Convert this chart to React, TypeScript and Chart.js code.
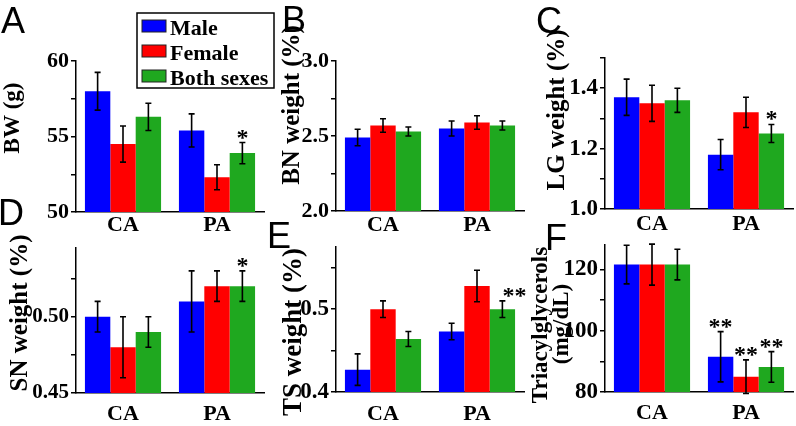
import React, { useEffect, useRef } from 'react';
import { Chart, registerables } from 'chart.js';

Chart.register(...registerables);

// ---------- data ----------
const categories = ['CA', 'PA'];
const seriesNames = ['Male', 'Female', 'Both sexes'];
const seriesColors = ['#0000ff', '#ff0000', '#1fa81f'];

// A: body weight (g)
const bwMale = [58.0, 55.4];
const bwFemale = [54.5, 52.3];
const bwBoth = [56.3, 53.9];
const bwMaleErr = [1.25, 1.1];
const bwFemaleErr = [1.2, 0.83];
const bwBothErr = [0.9, 0.7];
const bwTicks = [50, 55, 60];
const bwMinorTicks = [52.5, 57.5];
const bwStars: [number, number, string][] = [[2, 1, '*']];

// B: BN weight (%)
const bnMale = [2.49, 2.55];
const bnFemale = [2.57, 2.59];
const bnBoth = [2.53, 2.57];
const bnMaleErr = [0.055, 0.05];
const bnFemaleErr = [0.045, 0.045];
const bnBothErr = [0.03, 0.03];
const bnTicks = [2.0, 2.5, 3.0];
const bnMinorTicks = [2.25, 2.75];
const bnStars: [number, number, string][] = [];

// C: LG weight (%)
const lgMale = [1.37, 1.18];
const lgFemale = [1.35, 1.32];
const lgBoth = [1.36, 1.25];
const lgMaleErr = [0.06, 0.05];
const lgFemaleErr = [0.06, 0.05];
const lgBothErr = [0.04, 0.03];
const lgTicks = [1.0, 1.2, 1.4];
const lgMinorTicks = [1.1, 1.3, 1.5];
const lgStars: [number, number, string][] = [[2, 1, '*']];

// D: SN weight (%)
const snMale = [0.5, 0.51];
const snFemale = [0.48, 0.52];
const snBoth = [0.49, 0.52];
const snMaleErr = [0.01, 0.02];
const snFemaleErr = [0.02, 0.01];
const snBothErr = [0.01, 0.01];
const snTicks = [0.45, 0.5];
const snMinorTicks = [0.475, 0.525];
const snStars: [number, number, string][] = [[2, 1, '*']];

// E: TS weight (%)
const tsMale = [0.427, 0.473];
const tsFemale = [0.5, 0.528];
const tsBoth = [0.464, 0.5];
const tsMaleErr = [0.019, 0.01];
const tsFemaleErr = [0.01, 0.019];
const tsBothErr = [0.009, 0.01];
const tsTicks = [0.4, 0.5];
const tsMinorTicks = [0.45, 0.55];
const tsStars: [number, number, string][] = [[2, 1, '**']];

// F: Triacylglycerols (mg/dL)
const tgMale = [121.6, 91.5];
const tgFemale = [121.6, 85.0];
const tgBoth = [121.6, 88.2];
const tgMaleErr = [6.3, 8.2];
const tgFemaleErr = [6.7, 5.5];
const tgBothErr = [5.0, 5.0];
const tgTicks = [80, 100, 120];
const tgMinorTicks = [90, 110];
const tgStars: [number, number, string][] = [[0, 1, '**'], [1, 1, '**'], [2, 1, '**']];

// ---------- layout / style ----------
type PanelCfg = {
  key: string;
  values: number[][];
  errors: number[][];
  ticks: number[];
  minor: number[];
  stars: [number, number, string][];
  min: number;
  max: number;
  dec: number;
  area: { left: number; top: number; right: number; bottom: number };
  tickFont: number;
  xPad: number;
  letter: { text: string; x: number; y: number };
  titles: { text: string; x: number; y: number }[];
  titleFont: number;
  starDx: number;
  legend?: boolean;
};

const W = 796;
const H = 426;
const SERIF = "'Liberation Serif', 'Times New Roman', serif";
const SANS = "'Liberation Sans', Arial, sans-serif";

const panels: PanelCfg[] = [
  {
    key: 'A', values: [bwMale, bwFemale, bwBoth], errors: [bwMaleErr, bwFemaleErr, bwBothErr],
    ticks: bwTicks, minor: bwMinorTicks, stars: bwStars, min: 50, max: 60, dec: 0,
    area: { left: 76, top: 61, right: 264, bottom: 212 }, tickFont: 22, xPad: 0,
    letter: { text: 'A', x: 1, y: 33 }, titles: [{ text: 'BW (g)', x: 13, y: 118 }], titleFont: 23,
    starDx: 0, legend: true,
  },
  {
    key: 'B', values: [bnMale, bnFemale, bnBoth], errors: [bnMaleErr, bnFemaleErr, bnBothErr],
    ticks: bnTicks, minor: bnMinorTicks, stars: bnStars, min: 2.0, max: 3.0, dec: 1,
    area: { left: 336, top: 61, right: 524, bottom: 211 }, tickFont: 22, xPad: 1,
    letter: { text: 'B', x: 282, y: 32 }, titles: [{ text: 'BN weight (%)', x: 293, y: 105 }], titleFont: 25,
    starDx: 0,
  },
  {
    key: 'C', values: [lgMale, lgFemale, lgBoth], errors: [lgMaleErr, lgFemaleErr, lgBothErr],
    ticks: lgTicks, minor: lgMinorTicks, stars: lgStars, min: 1.0, max: 1.5, dec: 1,
    area: { left: 605, top: 58, right: 793, bottom: 209 }, tickFont: 23, xPad: 2,
    letter: { text: 'C', x: 536, y: 33 }, titles: [{ text: 'LG weight (%)', x: 558, y: 110 }], titleFont: 25,
    starDx: 0,
  },
  {
    key: 'D', values: [snMale, snFemale, snBoth], errors: [snMaleErr, snFemaleErr, snBothErr],
    ticks: snTicks, minor: snMinorTicks, stars: snStars, min: 0.45, max: 0.545, dec: 2,
    area: { left: 76, top: 248, right: 264, bottom: 393 }, tickFont: 21, xPad: 8,
    letter: { text: 'D', x: -2, y: 225 }, titles: [{ text: 'SN weight (%)', x: 21, y: 313 }], titleFont: 25,
    starDx: 0,
  },
  {
    key: 'E', values: [tsMale, tsFemale, tsBoth], errors: [tsMaleErr, tsFemaleErr, tsBothErr],
    ticks: tsTicks, minor: tsMinorTicks, stars: tsStars, min: 0.4, max: 0.575, dec: 1,
    area: { left: 336, top: 247, right: 524, bottom: 392 }, tickFont: 23, xPad: 9,
    letter: { text: 'E', x: 267, y: 248 }, titles: [{ text: 'TS weight (%)', x: 294, y: 332 }], titleFont: 27,
    starDx: 12,
  },
  {
    key: 'F', values: [tgMale, tgFemale, tgBoth], errors: [tgMaleErr, tgFemaleErr, tgBothErr],
    ticks: tgTicks, minor: tgMinorTicks, stars: tgStars, min: 80, max: 128, dec: 0,
    area: { left: 605, top: 245, right: 793, bottom: 392 }, tickFont: 23, xPad: 8,
    letter: { text: 'F', x: 545, y: 250 },
    titles: [{ text: 'Triacylglycerols', x: 541, y: 325 }, { text: '(mg/dL)', x: 562, y: 324 }], titleFont: 23,
    starDx: 0,
  },
];

function makeDecor(p: PanelCfg) {
  return {
    id: 'decor' + p.key,
    afterDatasetsDraw(chart: any) {
      const ctx = chart.ctx as CanvasRenderingContext2D;
      const ys = chart.scales.y;
      ctx.save();
      ctx.strokeStyle = '#000';
      ctx.lineWidth = 1.6;
      const tops: number[][] = [];
      p.values.forEach((vals, i) => {
        const meta = chart.getDatasetMeta(i);
        tops[i] = [];
        meta.data.forEach((bar: any, j: number) => {
          const v = vals[j];
          const e = p.errors[i][j];
          const yt = ys.getPixelForValue(v + e);
          const yb = ys.getPixelForValue(v - e);
          tops[i][j] = yt;
          const x = bar.x;
          ctx.beginPath();
          ctx.moveTo(x, yt);
          ctx.lineTo(x, yb);
          ctx.moveTo(x - 3, yt);
          ctx.lineTo(x + 3, yt);
          ctx.moveTo(x - 3, yb);
          ctx.lineTo(x + 3, yb);
          ctx.stroke();
        });
      });
      ctx.fillStyle = '#000';
      ctx.font = `bold 24px ${SERIF}`;
      ctx.textAlign = 'center';
      ctx.textBaseline = 'alphabetic';
      p.stars.forEach(([si, ci, label]) => {
        const bar = chart.getDatasetMeta(si).data[ci];
        ctx.fillText(label, bar.x + p.starDx, tops[si][ci] + 2);
      });
      ctx.restore();
    },
    afterDraw(chart: any) {
      const ctx = chart.ctx as CanvasRenderingContext2D;
      ctx.save();
      ctx.fillStyle = '#000';
      // panel letter
      ctx.font = `36px ${SANS}`;
      ctx.textAlign = 'left';
      ctx.textBaseline = 'alphabetic';
      ctx.fillText(p.letter.text, p.letter.x, p.letter.y);
      // y titles
      ctx.font = `bold ${p.titleFont}px ${SERIF}`;
      ctx.textAlign = 'center';
      ctx.textBaseline = 'middle';
      p.titles.forEach((t) => {
        ctx.save();
        ctx.translate(t.x, t.y);
        ctx.rotate(-Math.PI / 2);
        ctx.fillText(t.text, 0, 0);
        ctx.restore();
      });
      // legend
      if (p.legend) {
        const bx = 137, by = 13, bw = 137, bh = 75;
        ctx.fillStyle = '#fff';
        ctx.fillRect(bx, by, bw, bh);
        ctx.strokeStyle = '#000';
        ctx.lineWidth = 1.5;
        ctx.strokeRect(bx, by, bw, bh);
        ctx.font = `bold 22px ${SERIF}`;
        ctx.textAlign = 'left';
        ctx.textBaseline = 'alphabetic';
        chart.data.datasets.forEach((ds: any, i: number) => {
          const cy = 26 + i * 25;
          ctx.fillStyle = ds.backgroundColor;
          ctx.fillRect(142, cy - 6, 24, 12);
          ctx.strokeStyle = '#222';
          ctx.lineWidth = 1;
          ctx.strokeRect(142, cy - 6, 24, 12);
          ctx.fillStyle = '#000';
          ctx.fillText(ds.label, 170, cy + 9);
        });
      }
      ctx.restore();
    },
  };
}

function buildConfig(p: PanelCfg): any {
  const yW = 60;
  const xH = 30;
  const a = p.area;
  const allTicks = [...p.ticks, ...p.minor].sort((u, v) => u - v);
  const isMajor = (v: number) => p.ticks.some((m) => Math.abs(m - v) < 1e-9);
  return {
    type: 'bar',
    data: {
      labels: categories,
      datasets: p.values.map((vals, i) => ({
        label: seriesNames[i],
        data: vals,
        backgroundColor: seriesColors[i],
        borderWidth: 0,
        categoryPercentage: 0.81,
        barPercentage: 1.0,
      })),
    },
    options: {
      responsive: false,
      animation: false,
      devicePixelRatio: 1,
      layout: {
        padding: { left: a.left - yW, top: a.top, right: W - a.right, bottom: H - a.bottom - xH },
      },
      plugins: { legend: { display: false }, tooltip: { enabled: false }, title: { display: false } },
      scales: {
        x: {
          type: 'category',
          offset: true,
          grid: { display: false, drawTicks: false, tickLength: 0 },
          border: { display: true, color: '#000', width: 1.5 },
          ticks: {
            color: '#000',
            padding: p.xPad,
            font: { family: SERIF, weight: 'bold', size: 22 },
            maxRotation: 0,
            autoSkip: false,
          },
          afterFit: (s: any) => { s.height = xH; },
        },
        y: {
          type: 'linear',
          min: p.min,
          max: p.max,
          grid: { display: true, drawOnChartArea: false, drawTicks: true, tickLength: 5, color: '#000', lineWidth: 1.5 },
          border: { display: true, color: '#000', width: 1.5 },
          afterBuildTicks: (s: any) => { s.ticks = allTicks.map((v) => ({ value: v })); },
          ticks: {
            color: '#000',
            padding: 2,
            autoSkip: false,
            font: { family: SERIF, weight: 'bold', size: p.tickFont },
            callback: (v: any) => (isMajor(Number(v)) ? Number(v).toFixed(p.dec) : ''),
          },
          afterFit: (s: any) => { s.width = yW; },
        },
      },
    },
    plugins: [makeDecor(p)],
  };
}

function PanelChart({ cfg }: { cfg: PanelCfg }) {
  const ref = useRef<HTMLCanvasElement>(null);
  useEffect(() => {
    if (!ref.current) return;
    const chart = new Chart(ref.current, buildConfig(cfg));
    return () => chart.destroy();
  }, [cfg]);
  return (
    <canvas
      ref={ref}
      width={W}
      height={H}
      style={{ position: 'absolute', left: 0, top: 0, width: W, height: H }}
    />
  );
}

export default function App() {
  return (
    <div style={{ position: 'absolute', left: 0, top: 0, width: W, height: H, background: '#fff', overflow: 'hidden' }}>
      {panels.map((p) => (
        <PanelChart key={p.key} cfg={p} />
      ))}
    </div>
  );
}
